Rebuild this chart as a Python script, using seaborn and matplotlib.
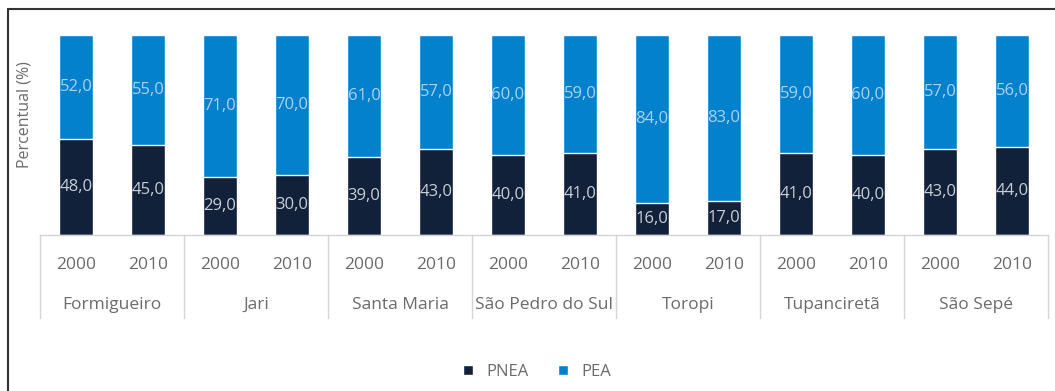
import matplotlib
matplotlib.use("Agg")
import matplotlib.pyplot as plt
from matplotlib.lines import Line2D
from matplotlib.patches import Patch
import matplotlib.transforms as mtransforms
import numpy as np
import pandas as pd
import seaborn as sns

# Data: share of economically inactive (PNEA) and active (PEA) population
municipios = ["Formigueiro", "Jari", "Santa Maria", "São Pedro do Sul",
              "Toropi", "Tupanciretã", "São Sepé"]
anos = ["2000", "2010"]
pnea = [48.0, 45.0, 29.0, 30.0, 39.0, 43.0, 40.0, 41.0, 16.0, 17.0, 41.0, 40.0, 43.0, 44.0]
pea = [52.0, 55.0, 71.0, 70.0, 61.0, 57.0, 60.0, 59.0, 84.0, 83.0, 59.0, 60.0, 57.0, 56.0]

COR_PNEA = "#11213a"
COR_PEA = "#0481cc"
COR_TEXTO = "#6b6b6b"
COR_GRADE = "#d4d4d4"

sns.set_theme(style="white")
plt.rcParams["font.family"] = ["Open Sans", "DejaVu Sans"]

rotulos = [f"{m} {a}" for m in municipios for a in anos]
df = pd.DataFrame({
    "barra": rotulos,
    "ano": [a for m in municipios for a in anos],
    "PNEA": pnea,
    "PEA": pea,
})
df["topo"] = df["PNEA"] + df["PEA"]

fig = plt.figure(figsize=(10.55, 3.91), dpi=100)
W, H = 1055, 391
ax = fig.add_axes([40 / W, 1 - 235 / H, (1048 - 40) / W, 200 / H])

# Stacked bars: full stack in PEA colour, PNEA drawn over its base
sns.barplot(data=df, x="barra", y="topo", order=rotulos, color=COR_PEA,
            width=0.47, errorbar=None, saturation=1, ax=ax)
sns.barplot(data=df, x="barra", y="PNEA", order=rotulos, color=COR_PNEA,
            width=0.47, errorbar=None, saturation=1, ax=ax)

ax.set_ylim(0, 100)
ax.set_xlim(-0.5, len(rotulos) - 0.5)
ax.set_ylabel("")
ax.set_xlabel("")
ax.set_yticks([])
for lado in ["left", "right", "top"]:
    ax.spines[lado].set_visible(False)
ax.spines["bottom"].set_color(COR_GRADE)
ax.spines["bottom"].set_linewidth(1.0)

# Value labels centred in each segment
def fmt(v):
    return f"{v:.1f}".replace(".", ",")

for i, (b, t) in enumerate(zip(pnea, pea)):
    ax.text(i, b / 2, fmt(b), ha="center", va="center", fontsize=12,
            color="#c9ced6")
    ax.text(i, b + t / 2, fmt(t), ha="center", va="center", fontsize=12,
            color="#a9d2f0")

# Two-level category axis: years as tick labels, municipalities below
ax.set_xticks(range(len(rotulos)))
ax.set_xticklabels(df["ano"], fontsize=12.5, color=COR_TEXTO)
ax.tick_params(axis="x", length=0, pad=16)

trans = mtransforms.blended_transform_factory(ax.transData, ax.transAxes)
for g, nome in enumerate(municipios):
    ax.text(2 * g + 0.5, -0.35, nome, transform=trans, ha="center",
            va="center", fontsize=12.5, color=COR_TEXTO)
for k in range(len(municipios) + 1):
    ax.add_line(Line2D([2 * k - 0.5, 2 * k - 0.5], [0, -0.415],
                       transform=trans, color=COR_GRADE, lw=1.0,
                       clip_on=False))

fig.text(25 / W, 1 - 115 / H, "Percentual (%)", rotation=90, ha="center",
         va="center", fontsize=11.5, color=COR_TEXTO)

# Legend
handles = [Patch(facecolor=COR_PNEA, label="PNEA"),
           Patch(facecolor=COR_PEA, label="PEA")]
fig.legend(handles=handles, loc="center", bbox_to_anchor=(537 / W, 1 - 372 / H),
           ncol=2, frameon=False, fontsize=12, labelcolor=COR_TEXTO,
           handlelength=0.6, handleheight=0.6, handletextpad=0.8,
           columnspacing=1.8)

# Outer frame (top and left edges)
fig.add_artist(Line2D([8 / W, 1.0], [1 - 9 / H, 1 - 9 / H],
                      transform=fig.transFigure, color="#333333", lw=1.5))
fig.add_artist(Line2D([8 / W, 8 / W], [1 - 9 / H, 0.0],
                      transform=fig.transFigure, color="#333333", lw=1.5))

fig.savefig("out.png", dpi=100)
